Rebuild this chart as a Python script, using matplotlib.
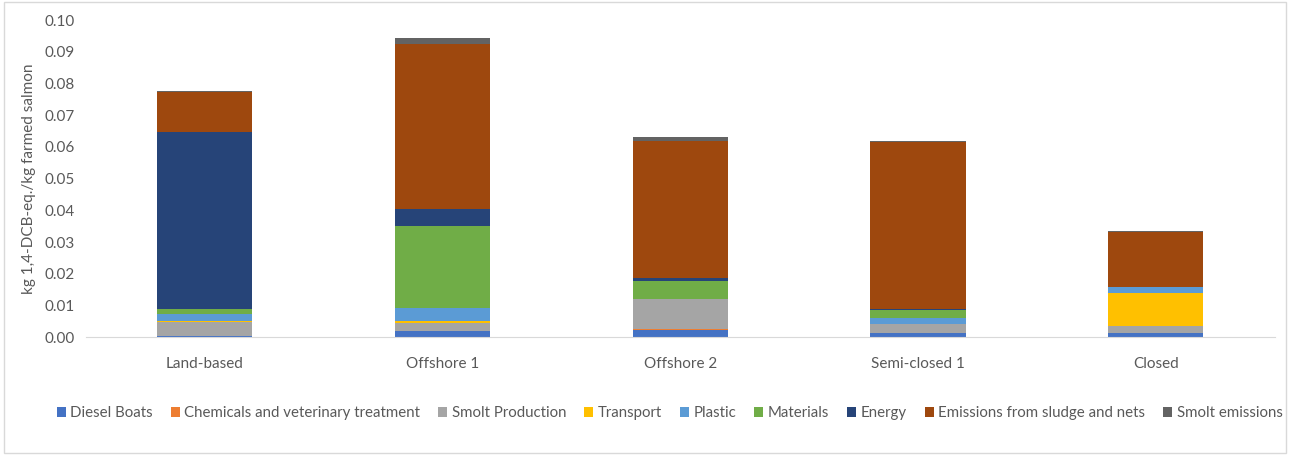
import matplotlib.pyplot as plt
import numpy as np

plt.rcParams['font.family'] = ['Lato', 'DejaVu Sans']

scenarios = ['Land-based', 'Offshore 1', 'Offshore 2', 'Semi-closed 1', 'Closed']

# contributions per scenario (kg 1,4-DCB-eq./kg farmed salmon)
diesel_boats = [0.0005, 0.0020, 0.0021, 0.0013, 0.0013]
chemicals = [0.0000, 0.0000, 0.0004, 0.0000, 0.0000]
smolt_production = [0.0042, 0.0025, 0.0095, 0.0030, 0.0022]
transport = [0.0004, 0.0005, 0.0000, 0.0000, 0.0105]
plastic = [0.0021, 0.0041, 0.0000, 0.0018, 0.0019]
materials = [0.0018, 0.0260, 0.0058, 0.0024, 0.0000]
energy = [0.0558, 0.0053, 0.0007, 0.0005, 0.0000]
emissions_sludge = [0.0124, 0.0520, 0.0434, 0.0526, 0.0172]
smolt_emissions = [0.0003, 0.0020, 0.0011, 0.0002, 0.0003]

series = [
    ('Diesel Boats', diesel_boats, '#4472C4'),
    ('Chemicals and veterinary treatment', chemicals, '#ED7D31'),
    ('Smolt Production', smolt_production, '#A5A5A5'),
    ('Transport', transport, '#FFC000'),
    ('Plastic', plastic, '#5B9BD5'),
    ('Materials', materials, '#70AD47'),
    ('Energy', energy, '#264478'),
    ('Emissions from sludge and nets', emissions_sludge, '#9E480E'),
    ('Smolt emissions', smolt_emissions, '#636363'),
]

fig = plt.figure(figsize=(12.9, 4.55), dpi=100)
ax = fig.add_axes([0.0667, 0.259, 0.9213, 0.697])

x = np.arange(len(scenarios))
bottom = np.zeros(len(scenarios))
for name, vals, col in series:
    ax.bar(x, vals, width=0.4, bottom=bottom, color=col, label=name, edgecolor='none')
    bottom += np.array(vals)

ax.set_xlim(-0.5, len(scenarios) - 0.5)
ax.set_ylim(0, 0.10)
ax.set_yticks(np.arange(0, 0.101, 0.01))
ax.set_yticklabels(['%.2f' % v for v in np.arange(0, 0.101, 0.01)])
ax.set_xticks(x)
ax.set_xticklabels(scenarios)
ax.tick_params(axis='both', length=0, labelsize=11, colors='#595959', pad=8)
ax.tick_params(axis='x', pad=14)

for s in ['top', 'right', 'left']:
    ax.spines[s].set_visible(False)
ax.spines['bottom'].set_color('#D9D9D9')

ax.set_ylabel('kg 1,4-DCB-eq./kg farmed salmon', fontsize=11, color='#595959', labelpad=6)

fig.legend(loc='center', bbox_to_anchor=(0.519, 0.092), ncol=9, frameon=False,
           fontsize=10.8, handlelength=0.6, handleheight=0.6, handletextpad=0.3,
           columnspacing=1.2, labelcolor='#595959')

# chart area border
fig.patches.append(plt.Rectangle((0.003, 0.005), 0.994, 0.99, transform=fig.transFigure,
                                 fill=False, edgecolor='#D9D9D9', linewidth=1))

fig.savefig('out.png', dpi=100)
